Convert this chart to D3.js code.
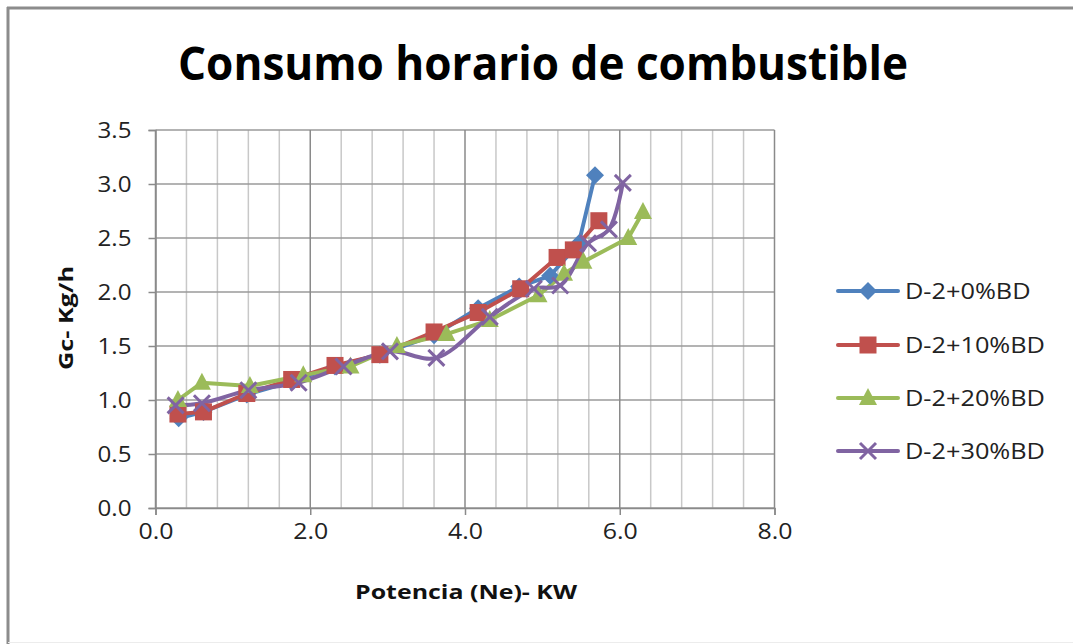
<!DOCTYPE html>
<html><head><meta charset="utf-8">
<script src="https://cdn.jsdelivr.net/npm/d3@7/dist/d3.min.js"></script>
<style>body{margin:0;background:#fff}svg{display:block}</style>
</head><body>
<svg id="c" width="1073" height="644"></svg>
<script>
const seriesNames = ["D-2+0%BD","D-2+10%BD","D-2+20%BD","D-2+30%BD"];
const x0 = [0.30,0.62,1.18,1.76,2.32,2.90,3.60,4.17,4.70,5.10,5.47,5.68];
const y0 = [0.83,0.89,1.05,1.17,1.31,1.42,1.60,1.85,2.05,2.15,2.45,3.08];
const x10 = [0.29,0.62,1.18,1.76,2.32,2.90,3.60,4.17,4.72,5.19,5.40,5.73];
const y10 = [0.87,0.89,1.06,1.19,1.32,1.42,1.63,1.81,2.03,2.32,2.39,2.66];
const x20 = [0.29,0.60,1.22,1.91,2.52,3.12,3.76,4.32,4.95,5.28,5.53,6.11,6.30];
const y20 = [1.00,1.16,1.13,1.23,1.31,1.50,1.61,1.74,1.97,2.17,2.28,2.50,2.74];
const x30 = [0.26,0.60,1.20,1.85,2.43,3.03,3.63,4.32,4.89,5.23,5.59,5.86,6.04];
const y30 = [0.95,0.97,1.09,1.16,1.31,1.45,1.39,1.77,2.03,2.06,2.45,2.58,3.01];
const xTicks = [0,2,4,6,8];
const yTicks = [0,0.5,1,1.5,2,2.5,3,3.5];
const colors = ["#4F81BD","#C0504D","#9BBB59","#8064A2"];
const symbols = ["diamond","square","triangle","x"];

const svg = d3.select("#c");
const font = "'Open Sans', 'Liberation Sans', sans-serif";
// outer frame (left, top, faint bottom)
svg.append("line").attr("x1",8).attr("x2",8).attr("y1",7).attr("y2",644).attr("stroke","#8c8c8c").attr("stroke-width",3);
svg.append("line").attr("x1",7).attr("x2",1073).attr("y1",8).attr("y2",8).attr("stroke","#8c8c8c").attr("stroke-width",3);
svg.append("line").attr("x1",8).attr("x2",1073).attr("y1",642.5).attr("y2",642.5).attr("stroke","#ececec").attr("stroke-width",1);

const x = d3.scaleLinear().domain([0,8]).range([155.5,774.5]);
const y = d3.scaleLinear().domain([0,3.5]).range([508,130]);

const minor = d3.range(0,8.0001,0.4).filter(v=>Math.abs(v/2-Math.round(v/2))>1e-6);
svg.append("g").selectAll("line").data(minor).join("line")
  .attr("x1",d=>x(d)).attr("x2",d=>x(d)).attr("y1",y(3.5)).attr("y2",y(0))
  .attr("stroke","#c8c8c8").attr("stroke-width",1.5);
svg.append("g").selectAll("line").data(yTicks).join("line")
  .attr("x1",x(0)).attr("x2",x(8)).attr("y1",d=>y(d)).attr("y2",d=>y(d))
  .attr("stroke","#9a9a9a").attr("stroke-width",1.5);
svg.append("g").selectAll("line").data(xTicks).join("line")
  .attr("x1",d=>x(d)).attr("x2",d=>x(d)).attr("y1",y(3.5)).attr("y2",y(0))
  .attr("stroke","#8a8a8a").attr("stroke-width",1.5);

const xa = svg.append("g").attr("transform",`translate(0,${y(0)})`)
  .call(d3.axisBottom(x).tickValues(xTicks).tickFormat(d3.format(".1f")).tickSize(7).tickPadding(9));
const ya = svg.append("g").attr("transform",`translate(${x(0)},0)`)
  .call(d3.axisLeft(y).tickValues(yTicks).tickFormat(d3.format(".1f")).tickSize(7).tickPadding(17));
[xa,ya].forEach(a=>{
  a.select(".domain").attr("stroke","#8a8a8a").attr("stroke-width",1.5);
  a.selectAll(".tick line").attr("stroke","#8a8a8a").attr("stroke-width",1.5);
  a.selectAll("text").attr("font-family",font).attr("font-size",21).attr("fill","#222");
});
ya.selectAll("text").attr("dy","0.35em");
xa.selectAll("text").attr("textLength",35).attr("lengthAdjust","spacingAndGlyphs");
ya.selectAll("text").attr("textLength",34).attr("lengthAdjust","spacingAndGlyphs");

const data = [[x0,y0],[x10,y10],[x20,y20],[x30,y30]].map(([xs,ys])=>xs.map((v,i)=>({x:v,y:ys[i]})));
function marker(g, sym, col){
  if(sym==="diamond") g.append("path").attr("d","M0,-9L9,0L0,9L-9,0Z").attr("fill",col);
  else if(sym==="square") g.append("rect").attr("x",-8.5).attr("y",-8.5).attr("width",17).attr("height",17).attr("fill",col);
  else if(sym==="triangle") g.append("path").attr("d","M0,-10L9,7L-9,7Z").attr("fill",col);
  else g.append("path").attr("d","M-8,-8L8,8M-8,8L8,-8").attr("stroke",col).attr("stroke-width",3).attr("fill","none");
}
data.forEach((pts,k)=>{
  const line = d3.line().x(d=>x(d.x)).y(d=>y(d.y))
    .curve(k===3 ? d3.curveCatmullRom.alpha(0.5) : d3.curveLinear);
  svg.append("path").datum(pts).attr("d",line).attr("fill","none")
    .attr("stroke",colors[k]).attr("stroke-width",4).attr("stroke-linejoin","round");
});
data.forEach((pts,k)=>{
  pts.forEach(p=>{
    const g = svg.append("g").attr("transform",`translate(${x(p.x)},${y(p.y)})`);
    marker(g, symbols[k], colors[k]);
  });
});

const legY = [291,345,398,451];
seriesNames.forEach((n,k)=>{
  svg.append("line").attr("x1",838).attr("x2",898).attr("y1",legY[k]).attr("y2",legY[k])
    .attr("stroke",colors[k]).attr("stroke-width",4).attr("stroke-linecap","round");
  const g = svg.append("g").attr("transform",`translate(868,${legY[k]})`);
  marker(g, symbols[k], colors[k]);
  const t = svg.append("text").attr("x",905).attr("y",legY[k]).attr("dy","0.35em")
    .attr("font-family",font).attr("font-size",22).attr("fill","#222").text(n);
  const w = t.node().getComputedTextLength();
  t.attr("textLength", w*1.15).attr("lengthAdjust","spacingAndGlyphs");
});

svg.append("text").attr("x",543).attr("y",80).attr("text-anchor","middle")
  .attr("font-family",font).attr("font-weight","bold").attr("font-size",47)
  .attr("textLength",730).attr("lengthAdjust","spacingAndGlyphs").attr("fill","#000")
  .text("Consumo horario de combustible");
svg.append("text").attr("x",466).attr("y",599).attr("text-anchor","middle")
  .attr("font-family",font).attr("font-weight","bold").attr("font-size",20)
  .attr("textLength",222).attr("lengthAdjust","spacingAndGlyphs").attr("fill","#111")
  .text("Potencia (Ne)- KW");
svg.append("text").attr("transform","translate(73,318) rotate(-90)").attr("text-anchor","middle")
  .attr("font-family",font).attr("font-weight","bold").attr("font-size",20)
  .attr("textLength",104).attr("lengthAdjust","spacingAndGlyphs").attr("fill","#111")
  .text("Gc- Kg/h");
</script>
</body></html>
